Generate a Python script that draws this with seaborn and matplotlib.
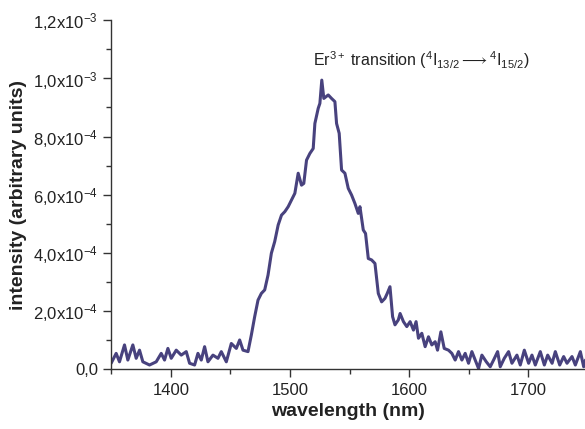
import matplotlib
matplotlib.use("Agg")
import matplotlib.pyplot as plt
import numpy as np
import pandas as pd
import seaborn as sns
from matplotlib.ticker import FixedLocator, FixedFormatter, MultipleLocator

# Emission spectrum (wavelength in nm, intensity in 1e-4 units)
wavelength = [
    1350.0, 1354.2, 1357.0, 1361.2, 1364.0, 1368.2, 1371.0, 1373.8, 1376.6, 1382.2,
    1387.8, 1392.0, 1394.8, 1397.6, 1400.4, 1404.6, 1408.8, 1413.0, 1415.8, 1420.0,
    1422.8, 1425.6, 1428.4, 1431.2, 1435.4, 1439.6, 1442.4, 1446.6, 1450.8, 1455.0,
    1457.8, 1460.6, 1464.8, 1467.6, 1470.4, 1473.2, 1476.0, 1478.8, 1481.6, 1484.4,
    1487.2, 1490.1, 1492.9, 1495.7, 1498.5, 1501.3, 1504.1, 1506.9, 1509.7, 1511.6,
    1513.9, 1516.7, 1519.5, 1520.9, 1523.7, 1525.1, 1526.7, 1528.4, 1532.1, 1534.9,
    1537.7, 1539.1, 1541.3, 1543.3, 1546.1, 1548.9, 1551.7, 1554.5, 1557.3, 1558.7,
    1561.5, 1563.4, 1565.7, 1568.5, 1571.3, 1574.1, 1576.9, 1579.7, 1581.6, 1583.9,
    1586.1, 1588.1, 1590.9, 1592.4, 1595.2, 1598.0, 1600.8, 1603.6, 1605.8, 1607.8,
    1610.6, 1613.4, 1616.2, 1619.0, 1621.8, 1623.8, 1626.6, 1629.4, 1633.0, 1635.8,
    1638.6, 1641.4, 1644.2, 1647.0, 1649.8, 1652.6, 1655.4, 1658.2, 1661.0, 1664.7,
    1668.0, 1670.8, 1674.2, 1676.4, 1679.8, 1683.4, 1686.2, 1690.4, 1693.2, 1696.6,
    1700.2, 1703.0, 1705.8, 1710.0, 1713.4, 1716.2, 1719.9, 1722.6, 1726.3, 1729.6,
    1732.4, 1736.6, 1739.4, 1743.6, 1746.4, 1747.9,
]
intensity_e4 = [
    0.21, 0.55, 0.26, 0.84, 0.32, 0.84, 0.38, 0.66, 0.26, 0.15,
    0.26, 0.55, 0.32, 0.72, 0.38, 0.66, 0.49, 0.61, 0.21, 0.15,
    0.55, 0.32, 0.78, 0.26, 0.49, 0.38, 0.61, 0.26, 0.89, 0.72,
    1.01, 0.66, 0.61, 1.18, 1.81, 2.38, 2.61, 2.73, 3.24, 3.99,
    4.39, 4.96, 5.30, 5.42, 5.59, 5.82, 6.05, 6.74, 6.33, 6.39,
    7.19, 7.42, 7.59, 8.45, 8.97, 9.14, 9.94, 9.31, 9.43, 9.31,
    9.20, 8.45, 8.11, 6.85, 6.74, 6.22, 5.99, 5.70, 5.36, 5.59,
    4.79, 4.67, 3.81, 3.76, 3.64, 2.61, 2.32, 2.44, 2.61, 2.84,
    1.81, 1.53, 1.70, 1.92, 1.64, 1.47, 1.64, 1.35, 1.64, 1.07,
    1.24, 0.78, 1.12, 0.84, 0.95, 0.66, 1.29, 0.72, 0.66, 0.55,
    0.32, 0.61, 0.32, 0.55, 0.21, 0.61, 0.32, 0.03, 0.49, 0.26,
    0.09, 0.32, 0.61, 0.09, 0.38, 0.61, 0.21, 0.49, 0.15, 0.66,
    0.21, 0.49, 0.15, 0.61, 0.15, 0.49, 0.21, 0.61, 0.15, 0.44,
    0.21, 0.44, 0.15, 0.61, 0.09, 0.32,
]

xtick_values = [1400, 1500, 1600, 1700]
ytick_values = [0.0, 2e-4, 4e-4, 6e-4, 8e-4, 1.0e-3, 1.2e-3]
ytick_labels = [
    "0,0", r"2,0x10$^{-4}$", r"4,0x10$^{-4}$", r"6,0x10$^{-4}$",
    r"8,0x10$^{-4}$", r"1,0x10$^{-3}$", r"1,2x10$^{-3}$",
]

df = pd.DataFrame({
    "wavelength": wavelength,
    "intensity": np.array(intensity_e4) * 1e-4,
})

sns.set_style("ticks")
plt.rcParams["font.family"] = ["Liberation Sans", "DejaVu Sans"]
plt.rcParams["mathtext.fontset"] = "custom"
plt.rcParams["mathtext.rm"] = "Liberation Sans"
plt.rcParams["mathtext.it"] = "Liberation Sans:italic"

fig = plt.figure(figsize=(5.85, 4.29), dpi=100)
ax = fig.add_axes([0.19, 0.139, 0.81, 0.814])

sns.lineplot(data=df, x="wavelength", y="intensity", ax=ax,
             color="#48427e", linewidth=2.2, sort=False, estimator=None)

ax.set_xlim(1350, 1747.5)
ax.set_ylim(0, 1.2e-3)

ax.xaxis.set_major_locator(FixedLocator(xtick_values))
ax.xaxis.set_minor_locator(MultipleLocator(50))
ax.yaxis.set_major_locator(FixedLocator(ytick_values))
ax.yaxis.set_major_formatter(FixedFormatter(ytick_labels))
ax.yaxis.set_minor_locator(MultipleLocator(1e-4))

ax.tick_params(axis="both", which="major", direction="out", length=6,
               width=1, color="#333333", labelsize=12, labelcolor="#222222")
ax.tick_params(axis="both", which="minor", direction="out", length=3.5,
               width=1, color="#333333")

for side in ["top", "right"]:
    ax.spines[side].set_visible(False)
for side in ["left", "bottom"]:
    ax.spines[side].set_color("#333333")
    ax.spines[side].set_linewidth(1)

ax.set_xlabel("wavelength (nm)", fontsize=14, fontweight="bold", color="#222222")
ax.set_ylabel("intensity (arbitrary units)", fontsize=14, fontweight="bold",
              color="#222222", labelpad=4)

ax.text(1610, 1.063e-3,
        r"Er$^{3+}$ transition ($^4$I$_{13/2}$$\longrightarrow$$^4$I$_{15/2}$)",
        ha="center", va="center", fontsize=11.5, color="#222222")

fig.savefig("out.png", dpi=100)
